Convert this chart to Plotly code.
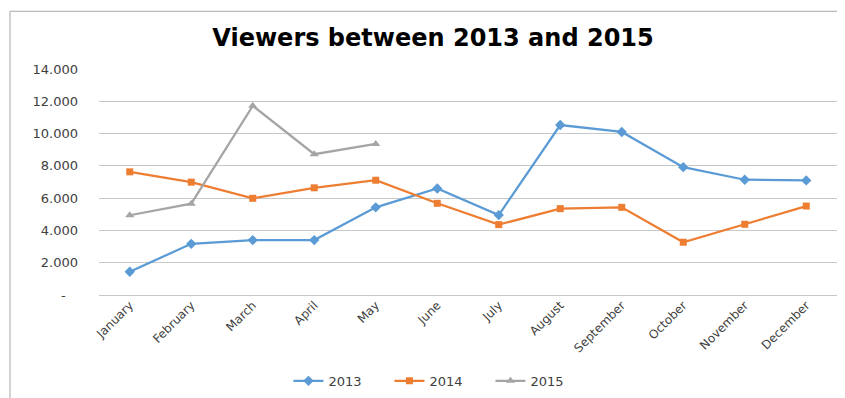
import plotly.graph_objects as go

months = ["January", "February", "March", "April", "May", "June", "July",
          "August", "September", "October", "November", "December"]
v2013 = [1440, 3170, 3400, 3400, 5430, 6600, 4950, 10530, 10100, 7920, 7140, 7100]
v2014 = [7630, 6990, 5990, 6640, 7110, 5680, 4360, 5350, 5430, 3270, 4380, 5510]
v2015 = [4940, 5660, 11720, 8720, 9360]
months2015 = months[:5]

ytick_vals = [0, 2000, 4000, 6000, 8000, 10000, 12000, 14000]
ytick_text = ["-\u00a0\u00a0\u00a0", "2.000", "4.000", "6.000", "8.000", "10.000", "12.000", "14.000"]

FONT = "DejaVu Sans, sans-serif"

fig = go.Figure()
fig.add_trace(go.Scatter(x=months, y=v2013, name="2013", mode="lines+markers",
                         line=dict(color="#5b9bd5", width=2.25),
                         marker=dict(symbol="diamond", size=8, color="#5b9bd5")))
fig.add_trace(go.Scatter(x=months, y=v2014, name="2014", mode="lines+markers",
                         line=dict(color="#ed7d31", width=2.25),
                         marker=dict(symbol="square", size=7, color="#ed7d31")))
fig.add_trace(go.Scatter(x=months2015, y=v2015, name="2015", mode="lines+markers",
                         line=dict(color="#a5a5a5", width=2.25),
                         marker=dict(symbol="triangle-up", size=8, color="#a5a5a5")))

fig.update_layout(
    width=845, height=398,
    margin=dict(l=91, r=16, t=61, b=110),
    paper_bgcolor="white", plot_bgcolor="white",
    font=dict(family=FONT, color="#404040", size=12),
    title=dict(text="<b>Viewers between 2013 and 2015</b>",
               x=0.4526, xref="paper", xanchor="center", y=0.9246, yanchor="middle",
               font=dict(family=FONT, size=24, color="#000000")),
    showlegend=True,
    legend=dict(orientation="h", x=0.462, xanchor="center", y=-0.374, yanchor="middle",
                font=dict(size=13, color="#404040"), tracegroupgap=0,
                entrywidth=56, entrywidthmode="pixels"),
    xaxis=dict(type="category", categoryorder="array", categoryarray=months,
               tickangle=-45, showgrid=False, showline=False, ticks="",
               automargin=False,
               tickfont=dict(size=12, color="#404040"), range=[-0.5, 11.5]),
    yaxis=dict(range=[0, 14000], tickvals=ytick_vals, ticktext=ytick_text,
               showgrid=True, gridcolor="#c8c8c8", gridwidth=1,
               zeroline=True, zerolinecolor="#c8c8c8", zerolinewidth=1,
               showline=False, ticks="", ticklabelstandoff=20, automargin=False,
               tickfont=dict(size=13, color="#404040")),
    shapes=[dict(type="rect", xref="paper", yref="paper",
                 x0=-0.1206, x1=1.2, y0=-0.6, y1=1.2555,
                 line=dict(color="#a6a6a6", width=1), fillcolor="rgba(0,0,0,0)",
                 layer="below")],
)

fig.write_html("out.html")
